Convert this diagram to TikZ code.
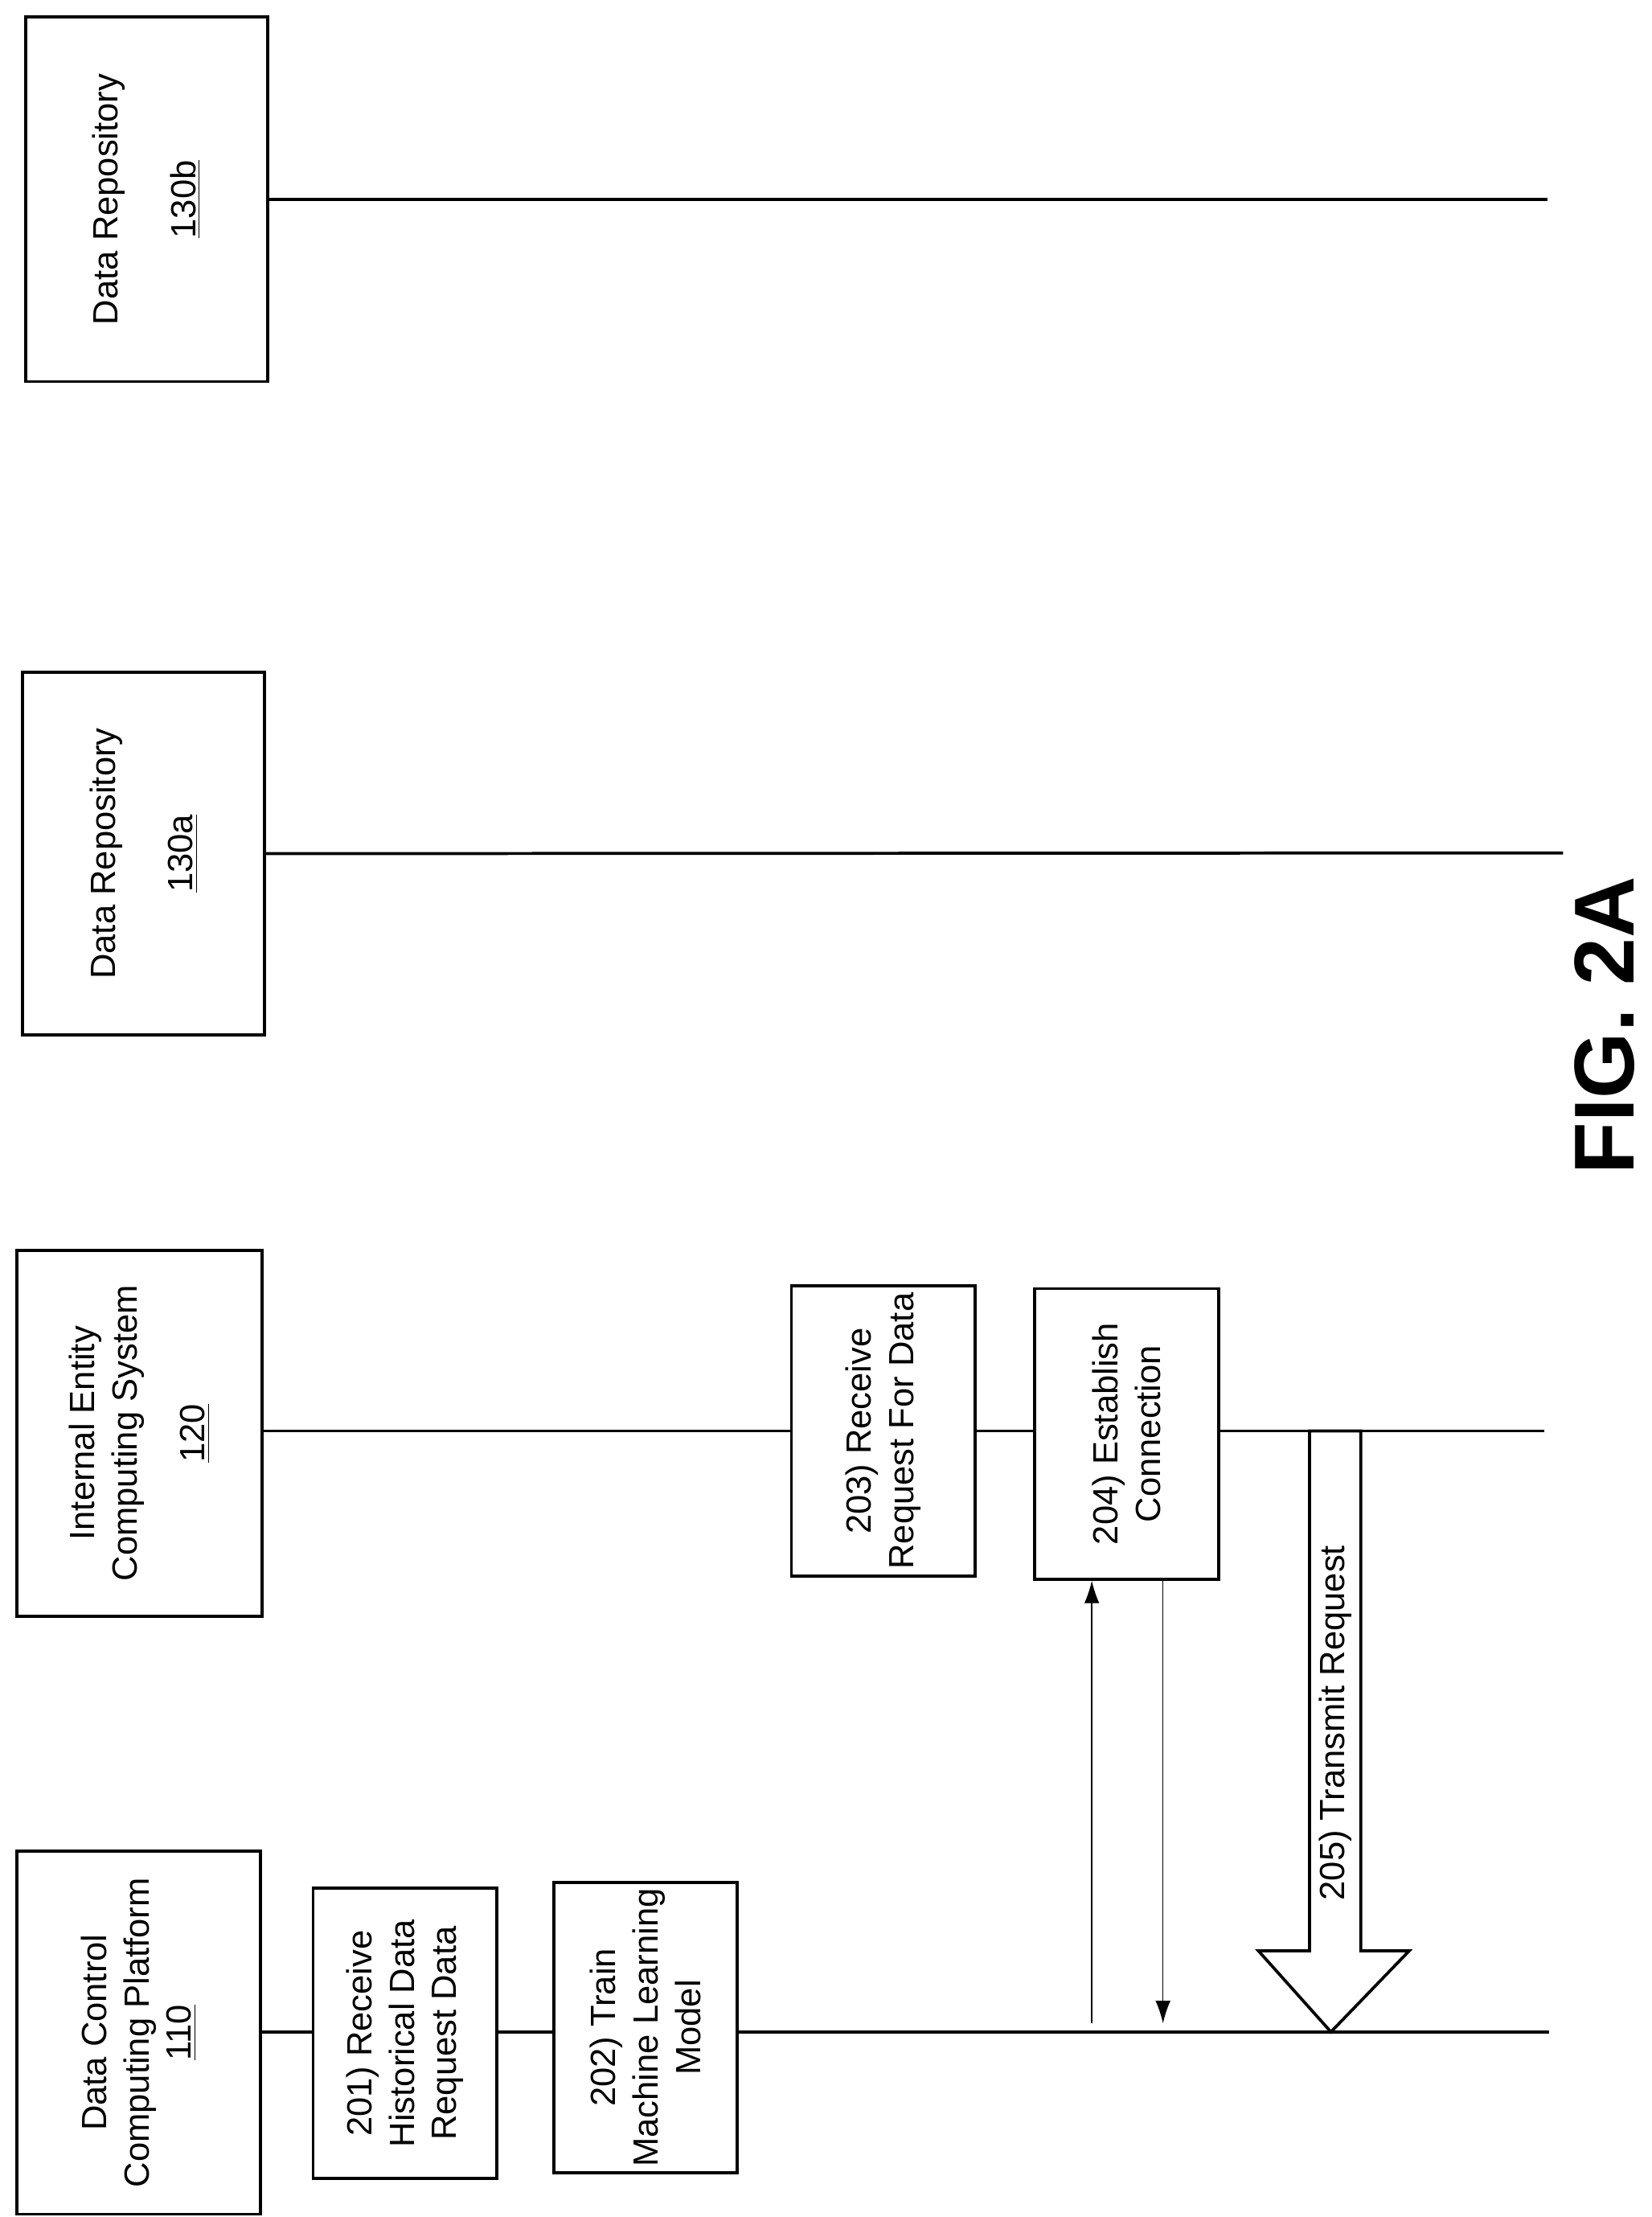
\documentclass[tikz,border=0pt]{standalone}
\usepackage{fontspec}
\setmainfont{Liberation Sans}
\usetikzlibrary{arrows.meta}
\begin{document}
\begin{tikzpicture}[x=0.02cm,y=-0.02cm,
  box/.style={draw,line width=1.2pt,fill=white,inner sep=0pt},
  txt/.style={rotate=90,align=center,font=\fontsize{14}{17}\selectfont},
  life/.style={line width=1.2pt},
  thin/.style={line width=0.5pt,-{Latex[length=9pt,width=6pt]}}]
\useasboundingbox (0,0) rectangle (1160,1557);
% lifelines
\coordinate (e110) at (1088,1427);
\coordinate (e120) at (1085,1005);
\coordinate (e130a) at (1098,599);
\coordinate (e130b) at (1087,140);
\draw[life] (183,1427) -- (e110);
\draw[life] (184,1005) -- (e120);
% boxes
\node[box,minimum width=171*0.02cm,minimum height=255*0.02cm] (b110) at (97.5,1427.5) {};
\node[txt] at (b110) {Data Control\\Computing Platform\\\underline{110}};
\node[box,minimum width=129*0.02cm,minimum height=204*0.02cm] (b201) at (284.5,1428) {};
\node[txt] at (b201) {201) Receive\\Historical Data\\Request Data};
\node[box,minimum width=129*0.02cm,minimum height=204*0.02cm] (b202) at (453.5,1424) {};
\node[txt] at (b202) {202) Train\\Machine Learning\\Model};
\node[box,minimum width=172*0.02cm,minimum height=257*0.02cm] (b120) at (98,1006.5) {};
\node[txt] at (b120) {Internal Entity\\Computing System\\[10pt]\underline{120}};
\node[box,minimum width=129*0.02cm,minimum height=204*0.02cm] (b203) at (620.5,1005) {};
\node[txt] at (b203) {203) Receive\\Request For Data};
\node[box,minimum width=129*0.02cm,minimum height=204*0.02cm] (b204) at (791.5,1007) {};
\node[txt] at (b204) {204) Establish\\Connection};
\node[box,minimum width=170*0.02cm,minimum height=255*0.02cm] (b130a) at (101,599.5) {};
\node[txt] at (b130a) {Data Repository\\[14pt]\underline{130a}};
\node[box,minimum width=170*0.02cm,minimum height=256*0.02cm] (b130b) at (103,140) {};
\node[txt] at (b130b) {Data Repository\\[14pt]\underline{130b}};
\draw[life] (b130a.east) -- (e130a);
\draw[life] (b130b.east) -- (e130b);
% thin arrows
\coordinate (u0) at (767,1421);
\coordinate (d0) at (817,1421);
\draw[thin] (u0) -- (u0 |- b204.south);
\draw[thin] (d0 |- b204.south) -- (d0);
% big arrow
\draw[line width=1.2pt,fill=white] (920,1005) -- (956,1005) -- (956,1370) -- (990,1370) -- (935,1427) -- (884,1370) -- (920,1370) -- cycle;
\node[txt] (t205) at (938,1210) {205) Transmit Request};
\node[rotate=90,font=\fontsize{34}{40}\selectfont\bfseries,inner sep=0pt] (fig) at (1127,720) {FIG. 2A};
\end{tikzpicture}
\end{document}
